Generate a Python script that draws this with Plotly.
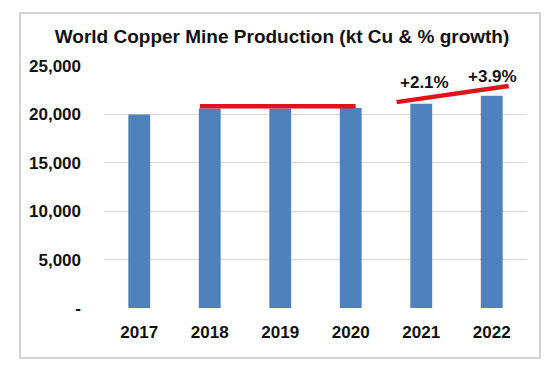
import plotly.graph_objects as go

# ---- data ----
years = ["2017", "2018", "2019", "2020", "2021", "2022"]
production_kt = [20000, 20600, 20600, 20670, 21100, 21920]
y_tick_values = [0, 5000, 10000, 15000, 20000, 25000]
y_tick_labels = ["-", "5,000", "10,000", "15,000", "20,000", "25,000"]
growth_labels = ["+2.1%", "+3.9%"]
growth_label_x = [4.05, 5.01]
growth_label_y = [23250, 23900]
flat_line_x = [0.86, 3.07]
flat_line_y = [20830, 20830]
rise_line_x = [3.65, 5.24]
rise_line_y = [21270, 22930]

# page body has an 8px margin, so the figure is laid out 8px smaller
OFF = 8
W, H = 553 - OFF, 367 - OFF
ML, MR, MT, MB = 104 - OFF, 26, 66 - OFF, 59
PW, PH = W - ML - MR, H - MT - MB

FONT = "Liberation Sans, Arial, sans-serif"
BLUE = "#4F81BD"
RED = "#E3121A"

x_pos = list(range(len(years)))

fig = go.Figure()
fig.add_trace(go.Bar(x=x_pos, y=production_kt, marker=dict(color=BLUE, line=dict(width=0)),
                     width=0.31, hoverinfo="skip"))
fig.add_trace(go.Scatter(x=flat_line_x, y=flat_line_y, mode="lines",
                         line=dict(color=RED, width=4.5), hoverinfo="skip"))
fig.add_trace(go.Scatter(x=rise_line_x, y=rise_line_y, mode="lines",
                         line=dict(color=RED, width=4.5), hoverinfo="skip"))

for lx, ly, txt in zip(growth_label_x, growth_label_y, growth_labels):
    fig.add_annotation(x=lx, y=ly, text=txt, showarrow=False, xref="x", yref="y",
                       font=dict(family=FONT, size=17, color="#111"), yanchor="middle")

def px_to_paper_x(px):
    return (px - OFF - ML) / PW

def px_to_paper_y(py):
    return (H - MB - (py - OFF)) / PH

fig.add_shape(type="rect", xref="paper", yref="paper",
              x0=px_to_paper_x(20), x1=px_to_paper_x(540),
              y0=px_to_paper_y(358), y1=px_to_paper_y(13),
              line=dict(color="#D3D3D3", width=2), fillcolor="rgba(0,0,0,0)", layer="below")

fig.update_layout(
    width=W, height=H,
    margin=dict(l=ML, r=MR, t=MT, b=MB, pad=0),
    paper_bgcolor="white", plot_bgcolor="white",
    showlegend=False,
    font=dict(family=FONT, color="#111"),
    title=dict(text="<b>World Copper Mine Production (kt Cu & % growth)</b>",
               x=(282 - OFF) / W, xanchor="center", xref="container",
               y=1 - (36.5 - OFF) / H, yanchor="middle", yref="container",
               font=dict(family=FONT, size=19, color="#111")),
    xaxis=dict(range=[-0.5, len(years) - 0.5], tickvals=x_pos, ticktext=years,
               showgrid=False, zeroline=False, showline=False, ticks="",
               tickfont=dict(family=FONT, size=17, color="#111", weight="bold"),
               ticklabelstandoff=12),
    yaxis=dict(range=[0, 25000], tickvals=y_tick_values, ticktext=y_tick_labels,
               showgrid=True, gridcolor="#D9D9D9", gridwidth=1.3, zeroline=False,
               showline=False, ticks="",
               tickfont=dict(family=FONT, size=17, color="#111", weight="bold"),
               ticklabelstandoff=22),
)
fig.update_annotations(font_weight="bold")

fig.write_html("out.html")
